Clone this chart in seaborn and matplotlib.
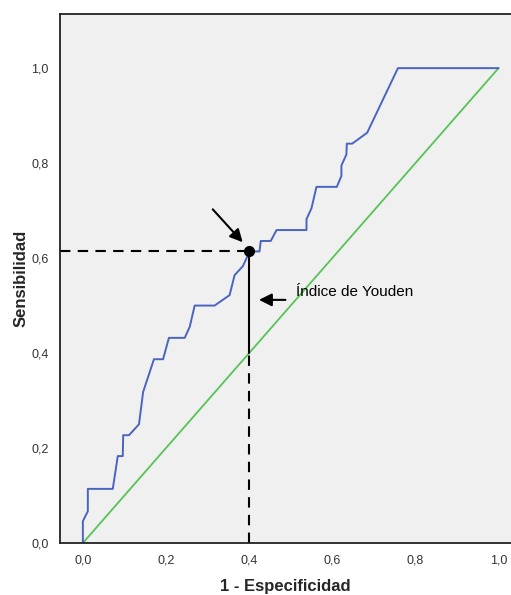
import matplotlib
matplotlib.use('Agg')
import matplotlib.pyplot as plt
import matplotlib.ticker as mticker
import seaborn as sns
import pandas as pd

# ROC curve
fpr = [0, 0, 0.012, 0.012, 0.072, 0.084, 0.096, 0.097, 0.111, 0.135, 0.145, 0.171, 0.193,
       0.207, 0.245, 0.257, 0.269, 0.317, 0.353, 0.365, 0.385, 0.397, 0.401, 0.425, 0.428,
       0.452, 0.466, 0.538, 0.538, 0.55, 0.562, 0.611, 0.622, 0.622, 0.634, 0.635, 0.648,
       0.684, 0.758, 1.0]
tpr = [0, 0.046, 0.067, 0.114, 0.114, 0.183, 0.183, 0.227, 0.227, 0.25, 0.318, 0.387, 0.387,
       0.432, 0.432, 0.455, 0.5, 0.5, 0.522, 0.564, 0.583, 0.606, 0.614, 0.614, 0.636,
       0.636, 0.659, 0.659, 0.682, 0.705, 0.75, 0.75, 0.773, 0.795, 0.818, 0.841, 0.841,
       0.864, 1.0, 1.0]
ref_x = [0, 1]
ref_y = [0, 1]
youden_x = 0.40
youden_y = 0.614
ticks = [0.0, 0.2, 0.4, 0.6, 0.8, 1.0]

roc = pd.DataFrame({'fpr': fpr, 'tpr': tpr})
diag = pd.DataFrame({'x': ref_x, 'y': ref_y})

sns.set_style('white', {'axes.facecolor': '#f0f0f0'})
plt.rcParams['font.family'] = ['Liberation Sans', 'DejaVu Sans']

fig = plt.figure(figsize=(5.11, 5.95), dpi=100)
ax = fig.add_axes([60 / 511, 52 / 595, 451 / 511, 529 / 595])

sns.lineplot(data=diag, x='x', y='y', ax=ax, color='#55c455', linewidth=1.3, sort=False, estimator=None)
sns.lineplot(data=roc, x='fpr', y='tpr', ax=ax, color='#4a64c0', linewidth=1.4, sort=False, estimator=None)

xmin, xmax = -0.055, 1.03
ymin, ymax = 0.0, 1.114
ax.set_xlim(xmin, xmax)
ax.set_ylim(ymin, ymax)

# Youden guides
ax.plot([xmin, youden_x], [youden_y, youden_y], color='black', lw=1.5, ls=(0, (5, 3.5)), clip_on=False)
ax.plot([youden_x, youden_x], [ymin, youden_x], color='black', lw=1.5, ls=(0, (5, 3.5)))
ax.plot([youden_x, youden_x], [youden_x, youden_y], color='black', lw=1.5)
ax.plot([youden_x], [youden_y], 'o', color='black', markersize=7, zorder=5)

ax.annotate('', xy=(0.389, 0.629), xytext=(0.308, 0.707),
            arrowprops=dict(arrowstyle='-|>', color='black', lw=1.5, mutation_scale=19))
ax.annotate('', xy=(0.417, 0.512), xytext=(0.494, 0.512),
            arrowprops=dict(arrowstyle='-|>', color='black', lw=1.5, mutation_scale=19))
ax.text(0.512, 0.528, 'Índice de Youden', fontsize=11, va='center', ha='left', color='black')

ax.set_xticks(ticks)
ax.set_yticks(ticks)
fmt = mticker.FuncFormatter(lambda v, p: f'{v:.1f}'.replace('.', ','))
ax.xaxis.set_major_formatter(fmt)
ax.yaxis.set_major_formatter(fmt)
ax.tick_params(axis='both', direction='out', length=5, width=1, labelsize=9, colors='black', pad=3)
ax.tick_params(axis='both', labelcolor='#333333')

for side in ['left', 'bottom', 'top']:
    ax.spines[side].set_color('#222222')
    ax.spines[side].set_linewidth(1.3)
ax.spines['right'].set_visible(False)

ax.set_xlabel('1 - Especificidad', fontsize=12, fontweight='bold', labelpad=9)
ax.set_ylabel('Sensibilidad', fontsize=12, fontweight='bold', labelpad=2)

fig.savefig('out.png', dpi=100)
